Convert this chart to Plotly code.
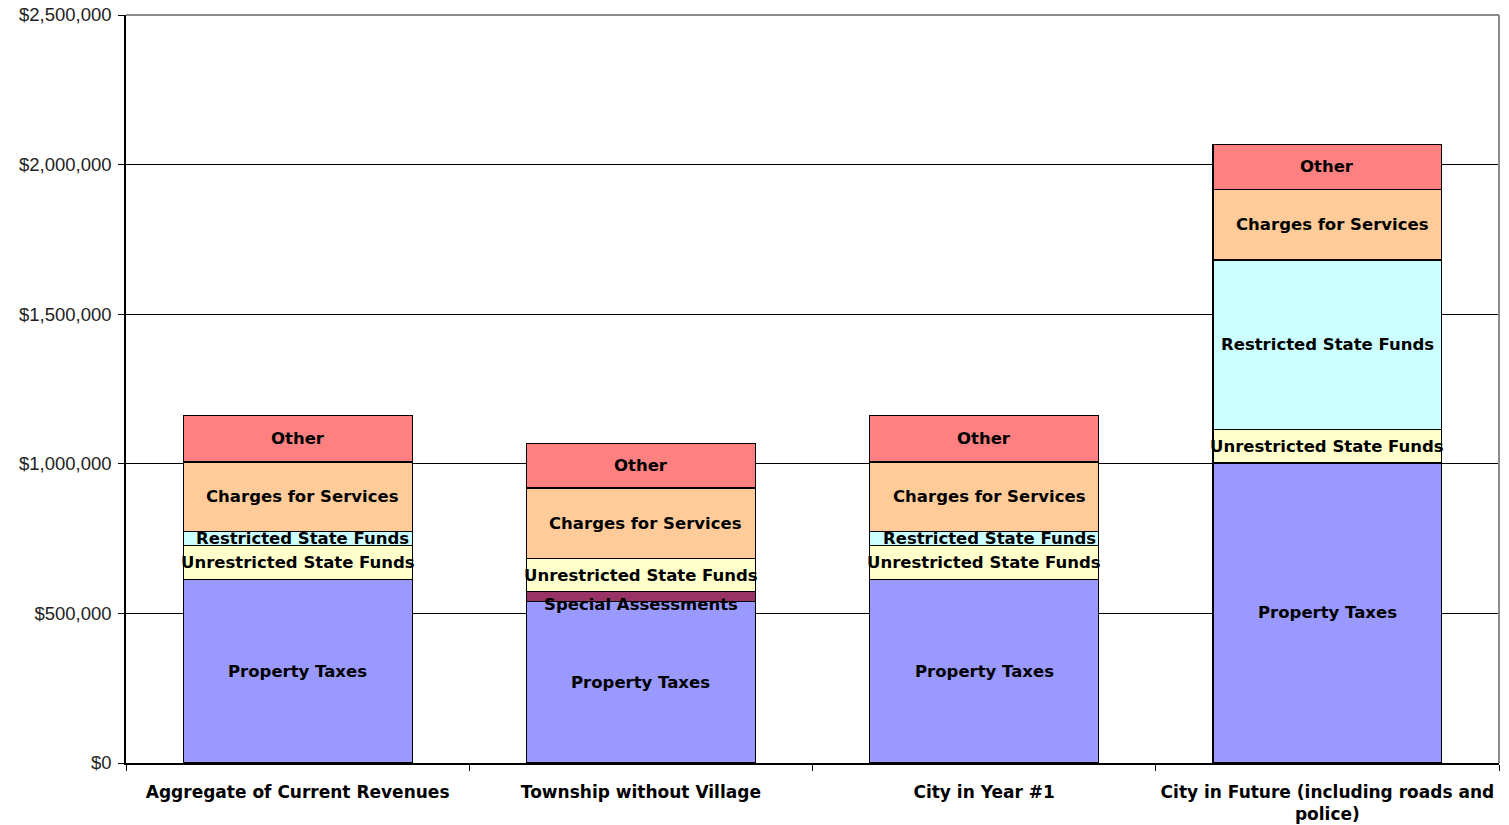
import plotly.graph_objects as go

# Revenue scenarios (x categories)
categories = [
    "Aggregate of Current Revenues",
    "Township without Village",
    "City in Year #1",
    "City in Future (including roads and<br>police)",
]

# Revenue components, in dollars, stacked bottom to top
property_taxes = [614000, 541000, 614000, 1003000]
special_assessments = [0, 32000, 0, 0]
unrestricted_state_funds = [113000, 110000, 113000, 111000]
restricted_state_funds = [47000, 0, 46000, 567000]
charges_for_services = [232000, 236000, 233000, 236000]
other = [156000, 149000, 156000, 151000]

series = [
    ("Property Taxes", property_taxes, "#9999FF"),
    ("Special Assessments", special_assessments, "#993366"),
    ("Unrestricted State Funds", unrestricted_state_funds, "#FFFFCC"),
    ("Restricted State Funds", restricted_state_funds, "#CCFFFF"),
    ("Charges for Services", charges_for_services, "#FFCC99"),
    ("Other", other, "#FF8080"),
]

y_ticks = [0, 500000, 1000000, 1500000, 2000000, 2500000]

label_font = dict(family="DejaVu Sans", size=16.5, color="black")

fig = go.Figure()
annotations = []
bases = [0] * len(categories)
for name, values, color in series:
    fig.add_trace(go.Bar(
        name=name,
        x=categories,
        y=values,
        marker=dict(color=color, line=dict(color="black", width=1.2)),
        hoverinfo="name+y",
    ))
    for i, v in enumerate(values):
        if v > 0:
            yshift = -8 if name == "Special Assessments" else 0
            xshift = 5 if name in ("Charges for Services", "Restricted State Funds") and v < 400000 else 0
            annotations.append(dict(
                x=categories[i], y=bases[i] + v / 2,
                text="<b>" + name + "</b>",
                showarrow=False, font=label_font,
                xanchor="center", yanchor="middle",
                xshift=xshift, yshift=yshift,
            ))
            bases[i] += v

# gray plot-area border on the top and right sides
border = dict(color="#8c8c8c", width=2)
shapes = [
    dict(type="line", xref="paper", yref="paper", x0=0, x1=1, y0=1, y1=1, line=border),
    dict(type="line", xref="paper", yref="paper", x0=1, x1=1, y0=0, y1=1, line=border),
]

fig.update_layout(
    barmode="stack",
    bargap=0.333,
    width=1509,
    height=825,
    margin=dict(l=126, r=10, t=15, b=62),
    paper_bgcolor="white",
    plot_bgcolor="white",
    showlegend=False,
    annotations=annotations,
    shapes=shapes,
    xaxis=dict(
        automargin=False,
        showline=True, linecolor="black", linewidth=1.5,
        ticks="outside", tickson="boundaries", ticklen=6, tickcolor="black",
        tickfont=dict(family="DejaVu Sans", size=17, color="black"),
        tickprefix="<b>", ticksuffix="</b>",
        ticklabelstandoff=13,
        showgrid=False,
    ),
    yaxis=dict(
        automargin=False,
        range=[0, 2500000],
        tickvals=y_ticks,
        tickformat="$,.0f",
        showline=True, linecolor="black", linewidth=1.5,
        ticks="outside", ticklen=6, tickcolor="black",
        tickfont=dict(family="Liberation Sans", size=18.5, color="#222222"),
        ticklabelstandoff=3,
        showgrid=True, gridcolor="black", gridwidth=1,
        zeroline=False,
    ),
)

fig.write_html("out.html")
